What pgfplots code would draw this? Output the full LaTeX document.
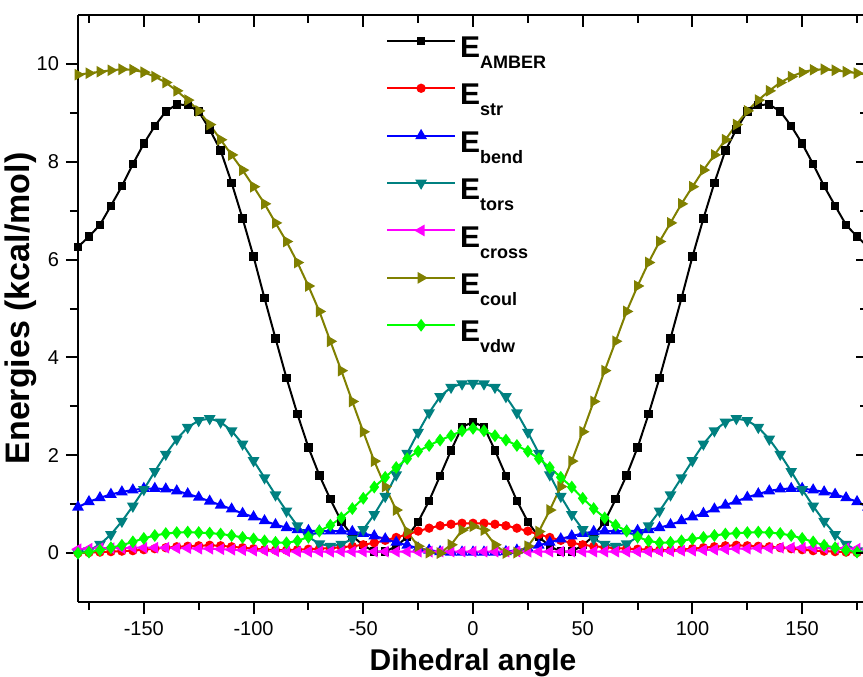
\documentclass[border=0pt]{standalone}
\usepackage{pgfplots}
\pgfplotsset{compat=1.18}
\usepackage{pgfplotstable}
\usepackage{fontspec}
\setmainfont{Liberation Sans}
\definecolor{cteal}{RGB}{0,128,128}
\definecolor{colive}{RGB}{128,128,0}
\definecolor{cgreen}{RGB}{0,255,0}
\definecolor{cmag}{RGB}{255,0,255}
\pgfplotstableread{
x amber str bend tors cross coul vdw
-180 6.26 0.00 0.94 0.00 0.08 9.78 0.00
-175 6.47 0.01 1.05 0.05 0.09 9.81 0.02
-170 6.71 0.02 1.13 0.18 0.10 9.84 0.06
-165 7.10 0.03 1.20 0.38 0.10 9.87 0.11
-160 7.50 0.04 1.25 0.65 0.10 9.89 0.16
-155 7.95 0.05 1.29 0.96 0.11 9.88 0.23
-150 8.37 0.07 1.32 1.30 0.11 9.83 0.30
-145 8.73 0.09 1.32 1.67 0.11 9.74 0.36
-140 9.03 0.11 1.31 2.02 0.11 9.62 0.40
-135 9.17 0.13 1.27 2.33 0.10 9.45 0.42
-130 9.16 0.14 1.21 2.57 0.10 9.26 0.43
-125 9.03 0.15 1.14 2.71 0.09 9.04 0.42
-120 8.66 0.16 1.06 2.75 0.09 8.76 0.41
-115 8.23 0.15 0.98 2.68 0.08 8.45 0.39
-110 7.57 0.13 0.90 2.50 0.07 8.14 0.36
-105 6.84 0.11 0.81 2.23 0.06 7.83 0.32
-100 6.06 0.09 0.74 1.89 0.05 7.49 0.29
-95 5.21 0.07 0.66 1.54 0.05 7.14 0.25
-90 4.39 0.06 0.58 1.19 0.04 6.75 0.22
-85 3.58 0.06 0.52 0.86 0.04 6.37 0.21
-80 2.84 0.07 0.48 0.56 0.03 5.94 0.25
-75 2.16 0.08 0.46 0.33 0.03 5.46 0.33
-70 1.59 0.09 0.45 0.19 0.03 4.94 0.45
-65 1.10 0.10 0.45 0.14 0.03 4.33 0.57
-60 0.65 0.12 0.45 0.18 0.03 3.73 0.72
-55 0.35 0.14 0.44 0.29 0.03 3.10 0.91
-50 0.16 0.17 0.40 0.48 0.03 2.48 1.12
-45 0.03 0.21 0.35 0.79 0.03 1.88 1.35
-40 0.03 0.26 0.29 1.16 0.03 1.36 1.55
-35 0.14 0.32 0.22 1.60 0.03 0.88 1.75
-30 0.33 0.38 0.16 2.04 0.03 0.44 1.93
-25 0.64 0.45 0.10 2.47 0.03 0.14 2.08
-20 1.07 0.51 0.06 2.87 0.03 0.01 2.20
-15 1.58 0.56 0.03 3.20 0.03 0.00 2.31
-10 2.10 0.59 0.02 3.39 0.03 0.17 2.40
-5 2.58 0.61 0.02 3.46 0.03 0.47 2.50
0 2.68 0.61 0.02 3.47 0.03 0.55 2.55
5 2.58 0.61 0.02 3.46 0.03 0.47 2.50
10 2.10 0.59 0.02 3.39 0.03 0.17 2.40
15 1.58 0.56 0.03 3.20 0.03 0.00 2.31
20 1.07 0.51 0.06 2.87 0.03 0.01 2.20
25 0.64 0.45 0.10 2.47 0.03 0.14 2.08
30 0.33 0.38 0.16 2.04 0.03 0.44 1.93
35 0.14 0.32 0.22 1.60 0.03 0.88 1.75
40 0.03 0.26 0.29 1.16 0.03 1.36 1.55
45 0.03 0.21 0.35 0.79 0.03 1.88 1.35
50 0.16 0.17 0.40 0.48 0.03 2.48 1.12
55 0.35 0.14 0.44 0.29 0.03 3.10 0.91
60 0.65 0.12 0.45 0.18 0.03 3.73 0.72
65 1.10 0.10 0.45 0.14 0.03 4.33 0.57
70 1.59 0.09 0.45 0.19 0.03 4.94 0.45
75 2.16 0.08 0.46 0.33 0.03 5.46 0.33
80 2.84 0.07 0.48 0.56 0.03 5.94 0.25
85 3.58 0.06 0.52 0.86 0.04 6.37 0.21
90 4.39 0.06 0.58 1.19 0.04 6.75 0.22
95 5.21 0.07 0.66 1.54 0.05 7.14 0.25
100 6.06 0.09 0.74 1.89 0.05 7.49 0.29
105 6.84 0.11 0.81 2.23 0.06 7.83 0.32
110 7.57 0.13 0.90 2.50 0.07 8.14 0.36
115 8.23 0.15 0.98 2.68 0.08 8.45 0.39
120 8.66 0.16 1.06 2.75 0.09 8.76 0.41
125 9.03 0.15 1.14 2.71 0.09 9.04 0.42
130 9.16 0.14 1.21 2.57 0.10 9.26 0.43
135 9.17 0.13 1.27 2.33 0.10 9.45 0.42
140 9.03 0.11 1.31 2.02 0.11 9.62 0.40
145 8.73 0.09 1.32 1.67 0.11 9.74 0.36
150 8.37 0.07 1.32 1.30 0.11 9.83 0.30
155 7.95 0.05 1.29 0.96 0.11 9.88 0.23
160 7.50 0.04 1.25 0.65 0.10 9.89 0.16
165 7.10 0.03 1.20 0.38 0.10 9.87 0.11
170 6.71 0.02 1.13 0.18 0.10 9.84 0.06
175 6.47 0.01 1.05 0.05 0.09 9.81 0.02
180 6.26 0.00 0.94 0.00 0.08 9.78 0.00
}\datatable
\newcommand{\leg}[1]{\rule[-6.2pt]{0pt}{24.4pt}{\fontsize{15}{15}\selectfont\bfseries E}\raisebox{-5.5pt}{\fontsize{9}{9}\selectfont\bfseries #1}}
\begin{document}
\begin{tikzpicture}
\begin{axis}[name=ax, scale only axis, width=395pt, height=293.5pt,
  xmin=-180, xmax=180, ymin=-1, ymax=11,
  axis x line*=bottom, axis y line*=left, tick align=outside,
  xtick={-150,-100,...,150}, minor xtick={-175,-125,...,175},
  ytick={0,2,...,10}, minor ytick={1,3,...,9},
  major tick length=6pt, minor tick length=4pt,
  axis line style={line width=1pt},
  every tick/.style={line width=1pt, black},
  tick label style={font=\fontsize{10}{12}\selectfont},
  /pgf/number format/assume math mode=true,
  xlabel={Dihedral angle}, ylabel={Energies (kcal/mol)},
  xlabel style={font=\fontsize{15}{18}\selectfont\bfseries},
  ylabel style={font=\fontsize{17}{20}\selectfont\bfseries, at={(axis description cs:-0.0608,0.5)}, anchor=base},
  every axis plot/.append style={line width=1pt},
  legend image code/.code={\draw[mark repeat=2,mark phase=2,#1] plot coordinates {(0pt,0pt)(17pt,0pt)(34pt,0pt)};},
  legend style={draw=none, fill=none, at={(rel axis cs:0.3895,0.997)}, anchor=north west, inner sep=0pt, row sep=0pt, cells={anchor=west}},
  ]
\addplot[black, mark=square*, mark size=1.6pt] table[x=x,y=amber]{\datatable};
\addlegendentry{\leg{AMBER}}
\addplot[red, mark=*, mark size=1.8pt] table[x=x,y=str]{\datatable};
\addlegendentry{\leg{str}}
\addplot[blue, mark=triangle*, mark size=2.4pt] table[x=x,y=bend]{\datatable};
\addlegendentry{\leg{bend}}
\addplot[cteal, mark=triangle*, mark size=2.4pt, mark options={rotate=180}] table[x=x,y=tors]{\datatable};
\addlegendentry{\leg{tors}}
\addplot[cmag, mark=triangle*, mark size=2.4pt, mark options={rotate=90}] table[x=x,y=cross]{\datatable};
\addlegendentry{\leg{cross}}
\addplot[colive, mark=triangle*, mark size=2.4pt, mark options={rotate=-90}] table[x=x,y=coul]{\datatable};
\addlegendentry{\leg{coul}}
\addplot[cgreen, mark=diamond*, mark size=2.4pt] table[x=x,y=vdw]{\datatable};
\addlegendentry{\leg{vdw}}
\end{axis}
\begin{axis}[at={(ax.south west)}, anchor=south west, scale only axis, width=395pt, height=293.5pt,
  xmin=-180, xmax=180, ymin=-1, ymax=11,
  axis x line*=top, axis y line*=right, tick align=inside,
  xtick={-150,-100,...,150}, minor xtick={-175,-125,...,175},
  ytick={0,2,...,10}, minor ytick={1,3,...,9},
  major tick length=6pt, minor tick length=4pt,
  axis line style={line width=1pt},
  every tick/.style={line width=1pt, black},
  xticklabels={}, yticklabels={}]
\end{axis}
\pgfresetboundingbox
\path[use as bounding box] ([xshift=-39pt,yshift=-37pt]ax.south west) rectangle ([xshift=-2.5pt,yshift=7.5pt]ax.north east);
\end{tikzpicture}
\end{document}
